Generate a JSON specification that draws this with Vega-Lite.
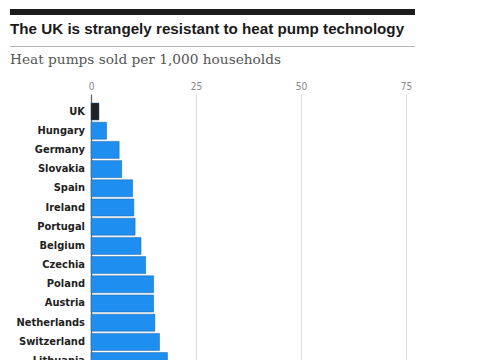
{
  "$schema": "https://vega.github.io/schema/vega-lite/v6.json",
  "padding": {"left": 10, "top": 9, "right": 0, "bottom": 0},
  "background": "white",
  "spacing": 6,
  "config": {"view": {"stroke": null}, "title": {"anchor": "start", "frame": "group"}},
  "vconcat": [
    {
      "width": 405, "height": 6,
      "data": {"values": []},
      "mark": {"type": "rule"},
      "encoding": {},
      "view": {"fill": "#1c1c1c", "stroke": null}
    },
    {
      "width": 405, "height": 1,
      "data": {"values": []},
      "mark": {"type": "rule"},
      "encoding": {},
      "view": {"fill": "#b5b5b5", "stroke": null},
      "title": {"text": "The UK is strangely resistant to heat pump technology", "font": "Liberation Sans", "fontSize": 15.2, "fontWeight": "bold", "color": "#1a1a1a", "offset": 9}
    },
    {
      "width": 405, "height": 284.6,
      "title": {"text": "Heat pumps sold per 1,000 households", "font": "DejaVu Serif", "fontSize": 13.7, "fontWeight": "normal", "color": "#555555", "offset": 14.3},
      "data": {"values": [
        {"country": "UK", "value": 1.9},
        {"country": "Hungary", "value": 3.7},
        {"country": "Germany", "value": 6.7},
        {"country": "Slovakia", "value": 7.3},
        {"country": "Spain", "value": 9.9},
        {"country": "Ireland", "value": 10.2},
        {"country": "Portugal", "value": 10.5},
        {"country": "Belgium", "value": 11.9},
        {"country": "Czechia", "value": 13.0},
        {"country": "Poland", "value": 14.9},
        {"country": "Austria", "value": 14.9},
        {"country": "Netherlands", "value": 15.2},
        {"country": "Switzerland", "value": 16.3},
        {"country": "Lithuania", "value": 18.2}
      ]},
      "encoding": {
        "y": {"field": "country", "type": "nominal", "sort": null, "axis": null, "scale": {"paddingInner": 0.115, "paddingOuter": 0.47}}
      },
      "layer": [
        {
          "mark": {"type": "bar", "stroke": "#1b5f99", "strokeWidth": 0.5},
          "encoding": {
            "x": {"field": "value", "type": "quantitative",
              "scale": {"domain": [-19.29, 77.14], "nice": false, "zero": false},
              "axis": {"orient": "top", "values": [0, 25, 50, 75], "title": null, "domain": false, "ticks": false,
                "labelPadding": 3, "labelFont": "DejaVu Sans Condensed, Roboto", "labelFontSize": 10, "labelColor": "#888888",
                "grid": true,
                "gridColor": {"condition": {"test": "datum.value === 0", "value": "#666666"}, "value": "#dcdcdc"},
                "gridWidth": {"condition": {"test": "datum.value === 0", "value": 1.3}, "value": 1}}},
            "color": {"condition": {"test": "datum.country === 'UK'", "value": "#222222"}, "value": "#1e8ff0"}
          }
        },
        {
          "mark": {"type": "text", "align": "right", "baseline": "middle", "dx": -6, "font": "DejaVu Sans Condensed, Roboto", "fontWeight": "bold", "fontSize": 11, "color": "#222222"},
          "encoding": {"x": {"datum": 0}, "text": {"field": "country"}}
        }
      ]
    }
  ]
}
